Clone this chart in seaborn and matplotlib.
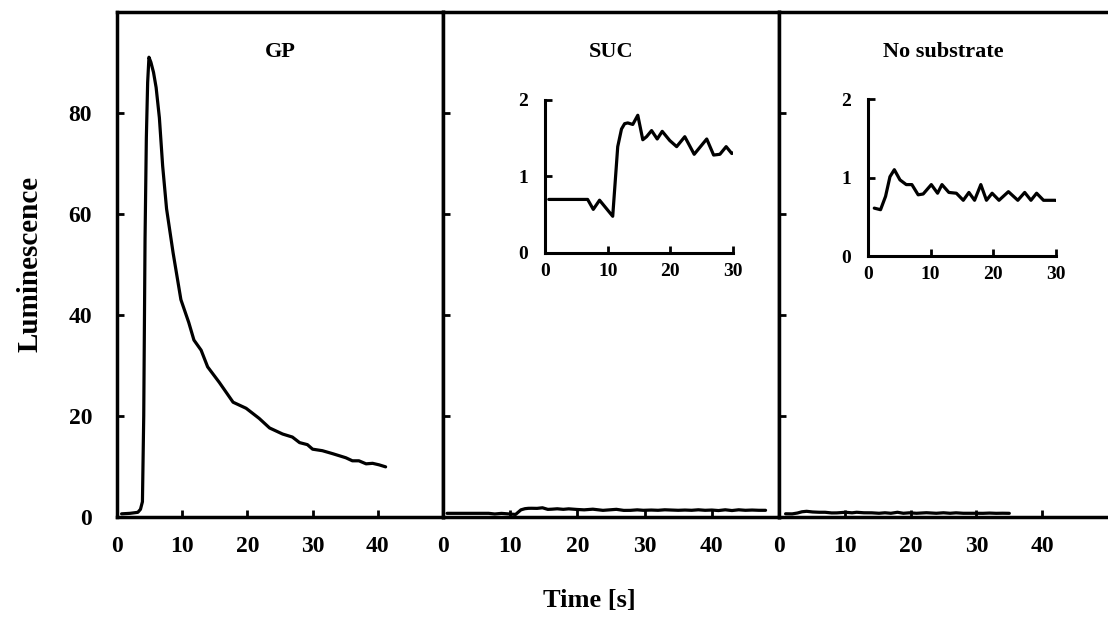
import numpy as np
import pandas as pd
import seaborn as sns
import matplotlib.pyplot as plt

# GP: sharp peak then slow decay
gp_t = [0.7, 2.0, 3.2, 3.6, 3.9, 4.1, 4.3, 4.5, 4.7, 4.9, 5.2, 5.6, 6.0, 6.5, 7.0, 7.6,
        8.6, 9.8, 11.0, 11.8, 12.9, 13.9, 15.7, 17.8, 19.8, 21.8, 23.4, 25.4, 26.9,
        28.0, 29.2, 30.0, 31.5, 33.1, 35.1, 36.1, 37.1, 38.2, 39.2, 40.2, 41.2]
gp_y = [0.6, 0.7, 0.9, 1.5, 3.0, 20.0, 55.0, 75.0, 86.0, 91.0, 90.0, 88.0, 85.0, 79.0,
        69.5, 61.0, 52.3, 43.0, 38.5, 35.0, 33.0, 29.7, 26.6, 22.7, 21.5, 19.5, 17.6,
        16.4, 15.8, 14.7, 14.3, 13.4, 13.1, 12.5, 11.7, 11.1, 11.1, 10.5, 10.6, 10.3, 9.9]

# SUC: step up at ~11 s
suc_t = [0.6, 6.8, 7.7, 8.7, 10.8, 11.6, 12.2, 12.7, 13.2, 14.0, 14.8, 15.6, 16.2, 17.0,
         17.9, 18.7, 19.9, 21.0, 22.3, 23.8, 25.8, 26.9, 27.9, 28.9, 29.8,
         31, 32, 33, 34, 35, 36, 37, 38, 39, 40, 41, 42, 43, 44, 45, 46, 47, 48]
suc_y = [0.70, 0.70, 0.57, 0.69, 0.48, 1.39, 1.62, 1.69, 1.70, 1.68, 1.80, 1.48, 1.52,
         1.60, 1.49, 1.59, 1.47, 1.39, 1.52, 1.29, 1.49, 1.28, 1.29, 1.39, 1.30,
         1.35, 1.30, 1.40, 1.35, 1.30, 1.35, 1.30, 1.40, 1.30, 1.35, 1.25, 1.40, 1.25,
         1.40, 1.30, 1.35, 1.30, 1.30]

# No substrate
nos_t = [1.0, 2.0, 2.8, 3.5, 4.2, 5.1, 6.1, 7.0, 8.0, 8.8, 10.1, 11.1, 11.8, 12.9, 14.1,
         15.2, 16.1, 17.0, 18.0, 18.9, 19.8, 20.9, 22.4, 23.9, 25.0, 26.0, 26.9, 28.0,
         29.8, 31, 32, 33, 34, 35]
nos_y = [0.61, 0.59, 0.76, 1.01, 1.10, 0.97, 0.91, 0.91, 0.78, 0.79, 0.91, 0.80, 0.91,
         0.81, 0.80, 0.71, 0.81, 0.71, 0.91, 0.71, 0.80, 0.71, 0.82, 0.71, 0.81, 0.71,
         0.80, 0.71, 0.71, 0.70, 0.75, 0.70, 0.72, 0.70]

titles = ["GP", "SUC", "No substrate"]
main_xticks = [0, 10, 20, 30, 40]
main_yticks = [0, 20, 40, 60, 80]

sns.set_style("white")
plt.rcParams['font.family'] = ['Liberation Serif', 'DejaVu Serif']
plt.rcParams['font.weight'] = 'bold'
plt.rcParams['text.color'] = 'black'
plt.rcParams['axes.labelcolor'] = 'black'
plt.rcParams['xtick.color'] = 'black'
plt.rcParams['ytick.color'] = 'black'

fig, axes = plt.subplots(1, 3, figsize=(11.08, 6.19), dpi=100, sharey=True,
                         gridspec_kw={'width_ratios': [326, 336, 329], 'wspace': 0})
fig.subplots_adjust(left=0.1056, right=1.0, top=0.981, bottom=0.165)

series = [(gp_t, gp_y), (suc_t, suc_y), (nos_t, nos_y)]
for i, (ax, (t, y), title) in enumerate(zip(axes, series, titles)):
    df = pd.DataFrame({'t': t, 'y': y})
    sns.lineplot(data=df, x='t', y='y', ax=ax, color='black', linewidth=2.3)
    ax.set_xlim(0, 50)
    ax.set_ylim(0, 100)
    ax.set_xticks(main_xticks)
    ax.set_yticks(main_yticks)
    ax.set_xlabel('')
    ax.set_ylabel('')
    ax.tick_params(direction='in', length=5, width=2, labelsize=17, pad=14,
                   bottom=True, left=True)
    ax.tick_params(axis='y', pad=18)
    for s in ax.spines.values():
        s.set_linewidth(2.5)
        s.set_color('black')
    if i > 0:
        ax.tick_params(axis='y', labelleft=False)
    ax.text(0.5, 0.92, title, transform=ax.transAxes, ha='center', va='center',
            fontsize=16, fontweight='bold')
axes[2].spines['right'].set_visible(False)

axes[0].set_ylabel('Luminescence', fontsize=21, fontweight='bold', labelpad=18)
fig.text(0.532, 0.03, 'Time [s]', ha='center', va='center', fontsize=19,
         fontweight='bold')

# insets
inset_pos = [[0.4919, 0.5913, 0.1697, 0.2472], [0.7834, 0.5864, 0.1697, 0.2536]]
for pos, (t, y) in zip(inset_pos, series[1:]):
    ia = fig.add_axes(pos)
    ia.set_facecolor('none')
    df = pd.DataFrame({'t': t, 'y': y})
    sns.lineplot(data=df, x='t', y='y', ax=ia, color='black', linewidth=2.3)
    ia.set_xlim(0, 30)
    ia.set_ylim(0, 2)
    ia.set_xticks([0, 10, 20, 30])
    ia.set_yticks([0, 1, 2])
    ia.set_xlabel('')
    ia.set_ylabel('')
    ia.spines['top'].set_visible(False)
    ia.spines['right'].set_visible(False)
    for s in ('left', 'bottom'):
        ia.spines[s].set_linewidth(2.2)
        ia.spines[s].set_color('black')
    ia.tick_params(direction='in', length=5, width=2, labelsize=14, pad=7,
                   bottom=True, left=True)
    ia.tick_params(axis='y', pad=12)

fig.savefig('out.png', dpi=100)
